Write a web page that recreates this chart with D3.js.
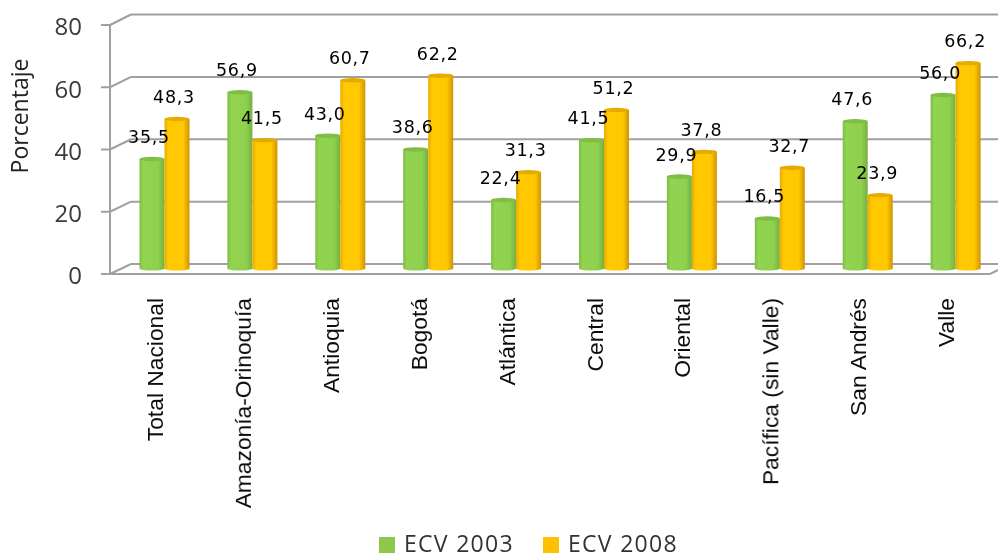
<!DOCTYPE html>
<html><head><meta charset="utf-8">
<script src="https://cdnjs.cloudflare.com/ajax/libs/d3/7.8.5/d3.min.js"></script>
<style>html,body{margin:0;background:#fff}svg{display:block}</style></head>
<body><svg id="c" width="998" height="555"></svg>
<script>
const categories=["Total Nacional","Amazonía-Orinoquía","Antioquia","Bogotá","Atlántica","Central","Oriental","Pacífica (sin Valle)","San Andrés","Valle"];
const ecv2003=[35.5,56.9,43.0,38.6,22.4,41.5,29.9,16.5,47.6,56.0];
const ecv2008=[48.3,41.5,60.7,62.2,31.3,51.2,37.8,32.7,23.9,66.2];
const seriesNames=["ECV 2003","ECV 2008"];
const yTicks=[0,20,40,60,80];
const fmt=v=>v.toFixed(1).replace(".",",");

const svg=d3.select("#c");
const defs=svg.append("defs");
function grad(id,stops){const g=defs.append("linearGradient").attr("id",id);
 stops.forEach(s=>g.append("stop").attr("offset",s[0]).attr("stop-color",s[1]));}
grad("gG",[[0,"#7dbd44"],[.15,"#92d451"],[.75,"#8fd04f"],[1,"#76b03e"]]);
grad("gO",[[0,"#e8aa00"],[.15,"#ffc800"],[.75,"#ffc800"],[1,"#cf9400"]]);
const blur=defs.append("filter").attr("id","b").attr("x","-5%").attr("y","-5%").attr("width","110%").attr("height","110%");
blur.append("feGaussianBlur").attr("stdDeviation",0.6);

const root=svg.append("g").attr("filter","url(#b)");
const yFront=d3.scaleLinear().domain([0,80]).range([274,25]);
const yBack=d3.scaleLinear().domain([0,80]).range([264,14.5]);
const yBar=d3.scaleLinear().domain([0,80]).range([270,20]);
const x0=d3.scaleBand().domain(categories).range([108,987]);
const grey="#a0a0a0";
const backL=131, frontL=110, backR=998;

const grid=root.append("g").attr("fill","none").attr("stroke",grey).attr("stroke-width",2);
yTicks.forEach(t=>{
 grid.append("line").attr("x1",backL).attr("x2",backR).attr("y1",yBack(t)).attr("y2",yBack(t));
 grid.append("line").attr("x1",frontL).attr("x2",backL).attr("y1",yFront(t)).attr("y2",yBack(t));
 grid.append("line").attr("x1",101).attr("x2",frontL).attr("y1",yFront(t)).attr("y2",yFront(t));
});
grid.append("line").attr("x1",frontL).attr("x2",frontL).attr("y1",yFront(80)).attr("y2",yFront(0));
grid.append("line").attr("x1",frontL).attr("x2",990).attr("y1",yFront(0)).attr("y2",yFront(0));
grid.append("line").attr("x1",990).attr("x2",backR).attr("y1",yFront(0)).attr("y2",yFront(0)-4);

root.append("g").selectAll("text").data(yTicks).join("text")
 .attr("x",82).attr("y",d=>yFront(d)+4).attr("text-anchor","end").attr("dominant-baseline","middle")
 .attr("font-family","Open Sans").attr("font-size",24).attr("fill","#3a3a3a").text(d=>d);

root.append("text").attr("transform","translate(28,116) rotate(-90)").attr("text-anchor","middle")
 .attr("font-family","Open Sans").attr("font-weight",500).attr("font-size",23).attr("fill","#222").text("Porcentaje");

const bw=25;
function bars(vals,fill,off){
 const g=root.append("g");
 categories.forEach((c,i)=>{
  const x=x0(c)+off, y=yBar(vals[i]);
  g.append("rect").attr("x",x).attr("y",y).attr("width",bw).attr("height",yBar(0)-y-1.5).attr("fill",`url(#${fill})`);
  g.append("ellipse").attr("cx",x+bw/2).attr("cy",yBar(0)-1.5).attr("rx",bw/2).attr("ry",2).attr("fill",`url(#${fill})`);
  g.append("ellipse").attr("cx",x+bw/2).attr("cy",y).attr("rx",bw/2).attr("ry",2.2).attr("fill",fill=="gG"?"#7fbe45":"#e6ab00");
 });
}
bars(ecv2003,"gG",31.5);
bars(ecv2008,"gO",56.5);

function labels(vals,off){
 root.append("g").selectAll("text").data(vals).join("text")
  .attr("x",(d,i)=>x0(categories[i])+off+bw/2-3).attr("y",d=>yBar(d)-16)
  .attr("text-anchor","middle").attr("font-family","DejaVu Sans").attr("font-size",17.5)
  .attr("letter-spacing",0.7).attr("fill","#000").text(fmt);
}
labels(ecv2003,31.5);
labels(ecv2008,56.5);

root.append("g").selectAll("text").data(categories).join("text")
 .attr("transform",d=>`translate(${x0(d)+55},298) rotate(-90)`)
 .attr("text-anchor","end").attr("font-family","Liberation Sans").attr("font-size",22.8).attr("fill","#111").text(d=>d);

const lg=root.append("g");
[[379,"#8cc84b"],[543,"#ffc000"]].forEach((p,i)=>{
 lg.append("rect").attr("x",p[0]).attr("y",537).attr("width",16).attr("height",16).attr("fill",p[1]);
 lg.append("text").attr("x",p[0]+25).attr("y",552).attr("font-family","Open Sans").attr("font-size",23).attr("letter-spacing",1.3).attr("fill","#333").text(seriesNames[i]);
});
</script></body></html>
